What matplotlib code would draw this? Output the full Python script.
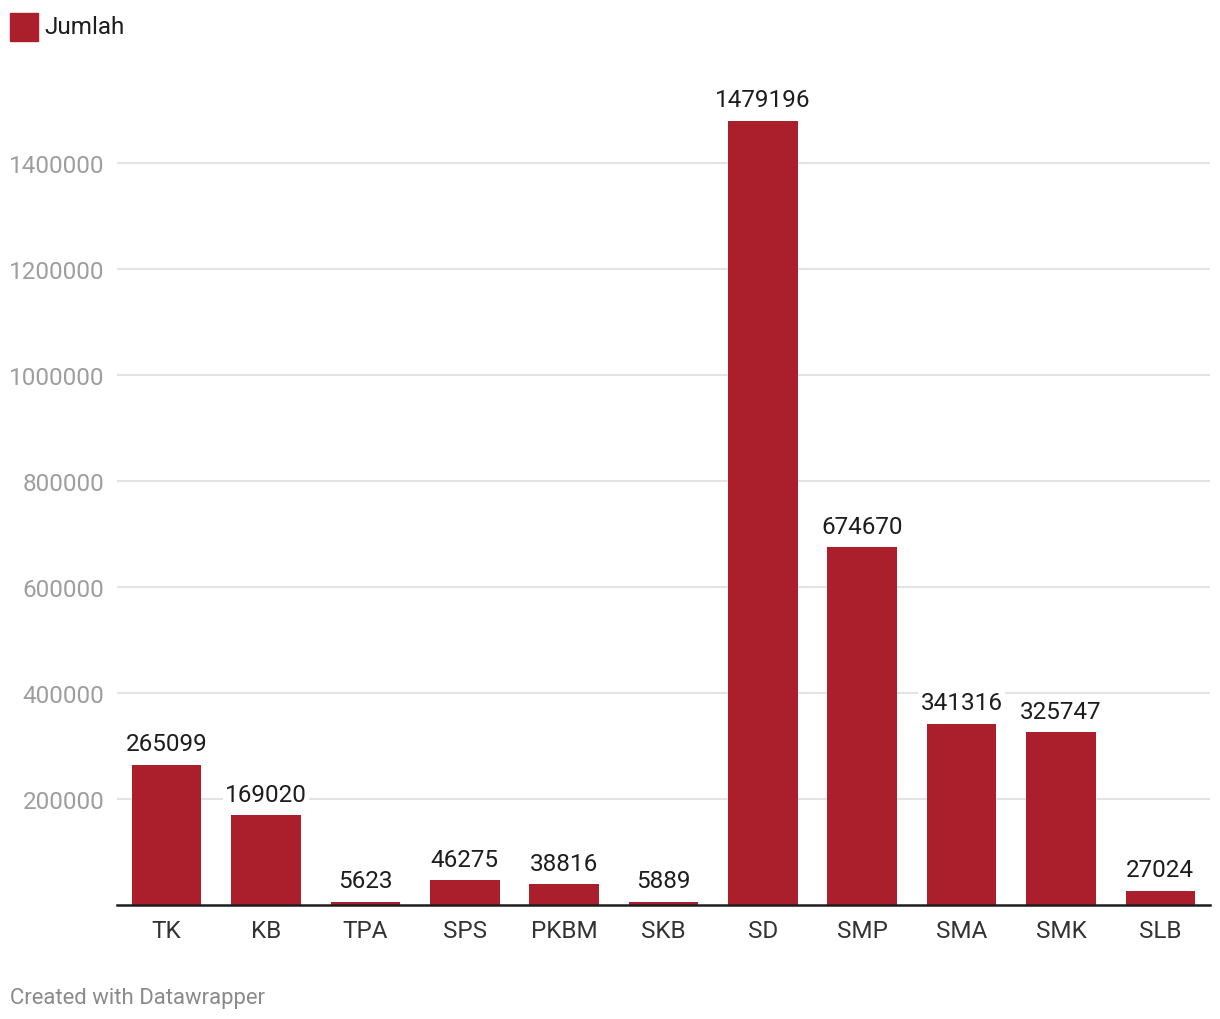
import matplotlib.pyplot as plt
import numpy as np

plt.rcParams['font.family'] = ['Roboto', 'DejaVu Sans']

categories = ['TK', 'KB', 'TPA', 'SPS', 'PKBM', 'SKB', 'SD', 'SMP', 'SMA', 'SMK', 'SLB']
jumlah = [265099, 169020, 5623, 46275, 38816, 5889, 1479196, 674670, 341316, 325747, 27024]
yticks = [200000, 400000, 600000, 800000, 1000000, 1200000, 1400000]

bar_color = '#ab1f2c'

fig = plt.figure(figsize=(12.2, 10.2), dpi=100)
ax = fig.add_axes([117 / 1220, 1 - 906 / 1020, (1210 - 117) / 1220, (906 - 75) / 1020])

x = np.arange(len(categories))
ax.bar(x, jumlah, width=0.7, color=bar_color, zorder=2)

for xi, v in zip(x, jumlah):
    ax.annotate(str(v), (xi, v), xytext=(0, 7), textcoords='offset points',
                ha='center', va='bottom', fontsize=17.5, color='#1d1d1d', zorder=3,
                bbox=dict(boxstyle='square,pad=0.1', fc='white', ec='none'))

ax.set_xlim(-0.5, len(categories) - 0.5)
ax.set_ylim(0, 1568000)
ax.set_yticks(yticks)
ax.set_yticklabels([str(t) for t in yticks])
ax.grid(axis='y', color='#e3e3e3', linewidth=1.5, zorder=0)
ax.set_xticks(x)
ax.set_xticklabels(categories)

ax.tick_params(axis='y', length=0, pad=9, labelsize=17.5, labelcolor='#9e9e9e')
ax.tick_params(axis='x', length=0, pad=10, labelsize=17.5, labelcolor='#333333')

for side in ['top', 'right', 'left']:
    ax.spines[side].set_visible(False)
ax.spines['bottom'].set_color('#1d1d1d')
ax.spines['bottom'].set_linewidth(1.8)
ax.spines['bottom'].set_zorder(4)

# legend swatch and label
fig.patches.append(plt.Rectangle((10 / 1220, 1 - 42 / 1020), 28 / 1220, 28 / 1020,
                                 transform=fig.transFigure, color=bar_color))
fig.text(44 / 1220, 1 - 27 / 1020, 'Jumlah', fontsize=17.5, color='#1d1d1d', va='center')

fig.text(10 / 1220, 1 - 999 / 1020, 'Created with Datawrapper', fontsize=15.9,
         color='#8a8a8a', va='center')

fig.savefig('out.png', dpi=100, facecolor='white')
